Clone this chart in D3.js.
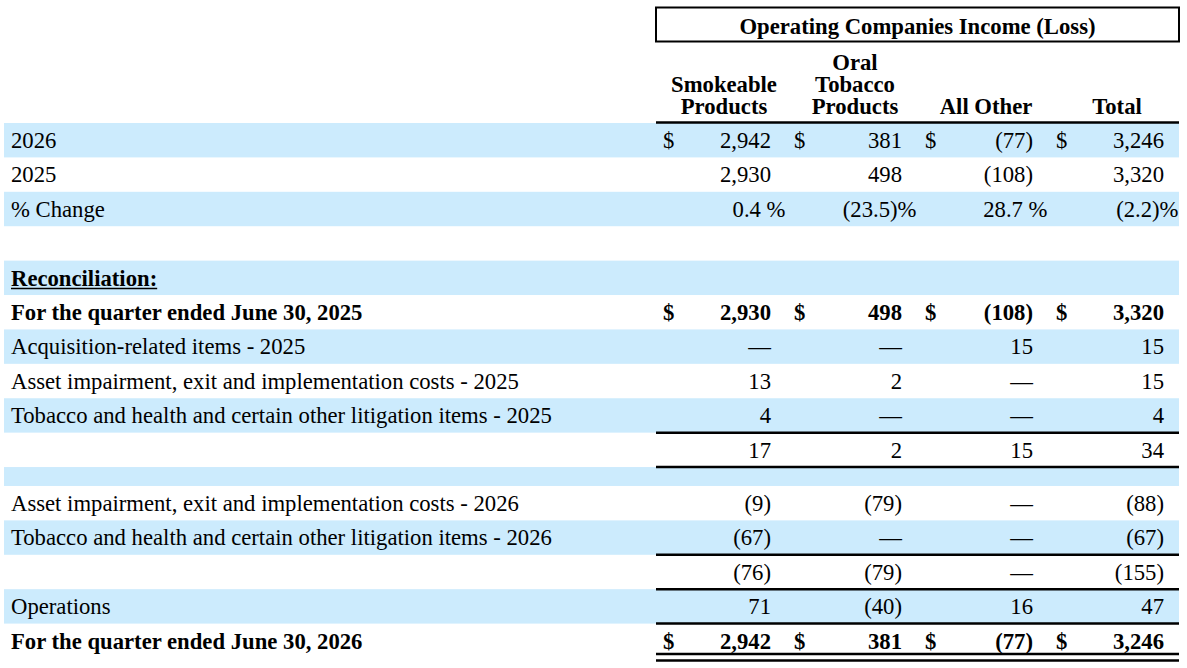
<!DOCTYPE html>
<html>
<head>
<meta charset="utf-8">
<script src="https://cdn.jsdelivr.net/npm/d3@7"></script>
<style>
  html, body { margin: 0; padding: 0; background: #fff; }
  svg { display: block; }
  text { font-family: "Liberation Serif", "Times New Roman", serif; fill: #000; }
</style>
</head>
<body>
<script>
// ---------- DATA ----------
const title = "Operating Companies Income (Loss)";
const categories = ["Smokeable Products", "Oral Tobacco Products", "All Other", "Total"];
const headerLines = [["Smokeable", "Products"], ["Oral", "Tobacco", "Products"], ["All Other"], ["Total"]];
const rowLabels = [
  "2026",
  "2025",
  "% Change",
  "",
  "Reconciliation:",
  "For the quarter ended June 30, 2025",
  "Acquisition-related items - 2025",
  "Asset impairment, exit and implementation costs - 2025",
  "Tobacco and health and certain other litigation items - 2025",
  "",
  "",
  "Asset impairment, exit and implementation costs - 2026",
  "Tobacco and health and certain other litigation items - 2026",
  "",
  "Operations",
  "For the quarter ended June 30, 2026"
];
// null = empty cell, 0 = em dash
const smokeable = [2942, 2930, 0.4, null, null, 2930, 0, 13, 4, 17, null, -9, -67, -76, 71, 2942];
const oralTobacco = [381, 498, -23.5, null, null, 498, 0, 2, 0, 2, null, -79, 0, -79, -40, 381];
const allOther = [-77, -108, 28.7, null, null, -108, 15, 0, 0, 15, null, 0, 0, 0, 16, -77];
const total = [3246, 3320, -2.2, null, null, 3320, 15, 15, 4, 34, null, -88, -67, -155, 47, 3246];
const series = [smokeable, oralTobacco, allOther, total];

// ---------- STYLE / LAYOUT (not data) ----------
const W = 1187, H = 668;
const FS = 22.7;
const boldRows = new Set([4, 5, 15]);
const dollarRows = new Set([0, 5, 15]);
const percentRows = new Set([2]);
const underlineRows = new Set([4]);
const shortRows = new Set([10]);
const ruleBelow = new Set([8, 9, 12, 13, 14]);
const doubleRuleBelow = new Set([15]);
const shade = "#CCEBFD";

const svg = d3.select("body").append("svg").attr("width", W).attr("height", H);
svg.append("rect").attr("width", W).attr("height", H).attr("fill", "#fff");

// row vertical layout
const units = rowLabels.map((_, i) => shortRows.has(i) ? 0.55 : 1);
const cum = [0];
units.forEach(u => cum.push(cum[cum.length - 1] + u));
const yScale = d3.scaleLinear().domain([0, cum[cum.length - 1]]).range([123, 658]);
const rowTop = i => yScale(cum[i]);
const rowBot = i => yScale(cum[i + 1]);

// column layout: right edge of numbers
const xNum = d3.scalePoint().domain(categories).range([771, 1164]);
const xDollar = d3.scalePoint().domain(categories).range([663, 1056]);
const tableLeft = 656, tableRight = 1179;

// shading
svg.selectAll("rect.shade")
  .data(rowLabels.map((l, i) => i).filter(i => i % 2 === 0))
  .join("rect")
  .attr("class", "shade")
  .attr("x", 4).attr("width", 1175)
  .attr("y", i => rowTop(i))
  .attr("height", i => rowBot(i) - rowTop(i))
  .attr("fill", shade);

// title box
svg.append("rect")
  .attr("x", tableLeft).attr("y", 7.5)
  .attr("width", tableRight - tableLeft).attr("height", 34)
  .attr("fill", "none").attr("stroke", "#000").attr("stroke-width", 2);
svg.append("text")
  .attr("x", (tableLeft + tableRight) / 2).attr("y", 34)
  .attr("text-anchor", "middle").attr("font-weight", "bold")
  .attr("font-size", FS).text(title);

// column headers
const headerBase = 114, lineH = 22;
categories.forEach((c, ci) => {
  const lines = headerLines[ci];
  const cx = xNum(c) - 47;
  lines.forEach((ln, li) => {
    svg.append("text")
      .attr("x", cx)
      .attr("y", headerBase - (lines.length - 1 - li) * lineH)
      .attr("text-anchor", "middle")
      .attr("font-weight", "bold")
      .attr("font-size", FS)
      .text(ln);
  });
});
// header underline
svg.append("line")
  .attr("x1", tableLeft).attr("x2", tableRight)
  .attr("y1", 122.5).attr("y2", 122.5)
  .attr("stroke", "#000").attr("stroke-width", 2.5);

// row labels
rowLabels.forEach((lab, i) => {
  if (!lab) return;
  const t = svg.append("text")
    .attr("x", 11).attr("y", rowTop(i) + 25)
    .attr("font-size", FS)
    .attr("font-weight", boldRows.has(i) ? "bold" : "normal")
    .text(lab);
  if (underlineRows.has(i)) {
    const w = t.node().getComputedTextLength();
    svg.append("line")
      .attr("x1", 11).attr("x2", 11 + w)
      .attr("y1", rowTop(i) + 28).attr("y2", rowTop(i) + 28)
      .attr("stroke", "#000").attr("stroke-width", 1.5);
  }
});

// formatting
const fmtInt = d3.format(",");
function fmtVal(v, i) {
  if (v === null || v === undefined) return "";
  if (percentRows.has(i)) {
    const s = d3.format(".1f")(Math.abs(v));
    return v < 0 ? "(" + s + ")%" : s + " %";
  }
  if (v === 0) return "\u2014";
  return v < 0 ? "(" + fmtInt(-v) + ")" : fmtInt(v);
}

// cells
categories.forEach((c, ci) => {
  const vals = series[ci];
  vals.forEach((v, i) => {
    const s = fmtVal(v, i);
    if (!s) return;
    const x = xNum(c) + (percentRows.has(i) ? 14.5 : 0);
    svg.append("text")
      .attr("x", x).attr("y", rowTop(i) + 25)
      .attr("text-anchor", "end")
      .attr("font-size", FS)
      .attr("font-weight", boldRows.has(i) ? "bold" : "normal")
      .text(s);
    if (dollarRows.has(i)) {
      svg.append("text")
        .attr("x", xDollar(c)).attr("y", rowTop(i) + 25)
        .attr("font-size", FS)
        .attr("font-weight", boldRows.has(i) ? "bold" : "normal")
        .text("$");
    }
  });
});

// rules
rowLabels.forEach((_, i) => {
  if (ruleBelow.has(i) || doubleRuleBelow.has(i)) {
    const y = rowBot(i) - (doubleRuleBelow.has(i) ? 4 : 0);
    svg.append("line")
      .attr("x1", tableLeft).attr("x2", tableRight)
      .attr("y1", y).attr("y2", y)
      .attr("stroke", "#000").attr("stroke-width", 2.5);
    if (doubleRuleBelow.has(i)) {
      svg.append("line")
        .attr("x1", tableLeft).attr("x2", tableRight)
        .attr("y1", y + 6.5).attr("y2", y + 6.5)
        .attr("stroke", "#000").attr("stroke-width", 2.5);
    }
  }
});
</script>
</body>
</html>
